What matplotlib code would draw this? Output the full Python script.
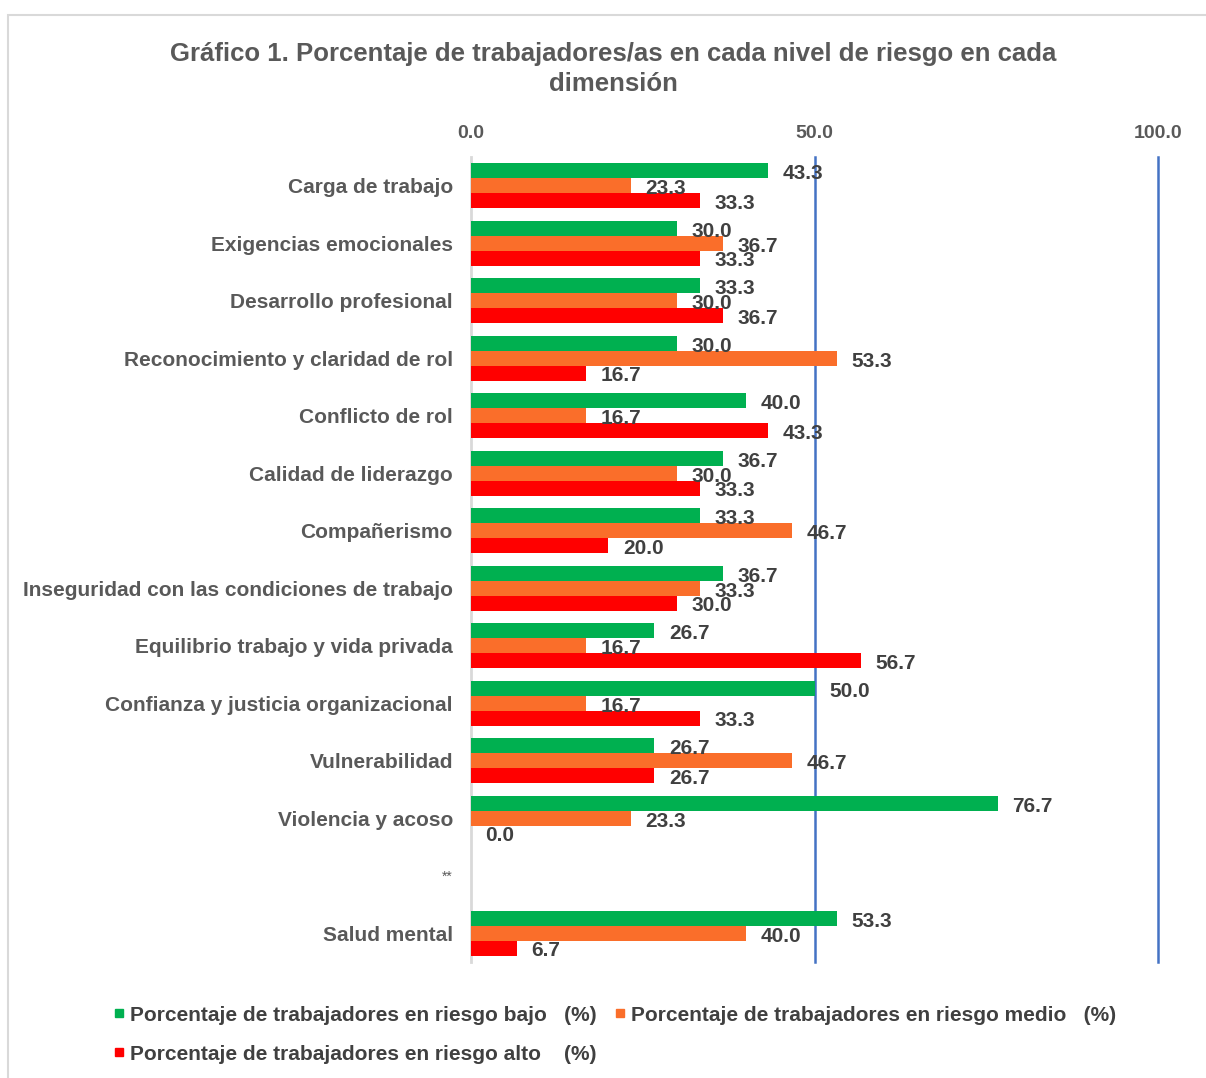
import numpy as np
import matplotlib
matplotlib.use("Agg")
import matplotlib.pyplot as plt
from matplotlib.lines import Line2D
from matplotlib.patches import Rectangle

plt.rcParams['font.family'] = ['Liberation Sans', 'DejaVu Sans']

categories = [
    "Carga de trabajo",
    "Exigencias emocionales",
    "Desarrollo profesional",
    "Reconocimiento y claridad de rol",
    "Conflicto de rol",
    "Calidad de liderazgo",
    "Compañerismo",
    "Inseguridad con las condiciones de trabajo",
    "Equilibrio trabajo y vida privada",
    "Confianza y justicia organizacional",
    "Vulnerabilidad",
    "Violencia y acoso",
    "**",
    "Salud mental",
]
riesgo_bajo = [43.3, 30.0, 33.3, 30.0, 40.0, 36.7, 33.3, 36.7, 26.7, 50.0, 26.7, 76.7, np.nan, 53.3]
riesgo_medio = [23.3, 36.7, 30.0, 53.3, 16.7, 30.0, 46.7, 33.3, 16.7, 16.7, 46.7, 23.3, np.nan, 40.0]
riesgo_alto = [33.3, 33.3, 36.7, 16.7, 43.3, 33.3, 20.0, 30.0, 56.7, 33.3, 26.7, 0.0, np.nan, 6.7]
series_names = [
    "Porcentaje de trabajadores en riesgo bajo   (%)",
    "Porcentaje de trabajadores en riesgo medio   (%)",
    "Porcentaje de trabajadores en riesgo alto    (%)",
]
x_ticks = [0, 50, 100]
x_ticklabels = ["0.0", "50.0", "100.0"]

colors = ["#00B050", "#FA6E2A", "#FF0000"]
label_color = "#404040"
cat_color = "#595959"

W, H = 1206, 1078
fig = plt.figure(figsize=(W / 100, H / 100), dpi=100)
fig.patch.set_facecolor("white")

left = 471 / W
right = 1158 / W
top = 1 - 157 / H
bottom = 1 - 962 / H
ax = fig.add_axes([left, bottom, right - left, top - bottom])

n = len(categories)
y = np.arange(n)
bh = 0.26
all_series = [riesgo_bajo, riesgo_medio, riesgo_alto]
offsets = [-bh, 0, bh]
for vals, off, col in zip(all_series, offsets, colors):
    vals = np.array(vals, dtype=float)
    ax.barh(y + off, vals, height=bh, color=col, zorder=3)
    for yi, v in zip(y, vals):
        if np.isnan(v):
            continue
        ax.annotate(f"{v:.1f}", xy=(v, yi + off), xytext=(10.5, -2.0),
                    textcoords="offset points", ha="left", va="center",
                    fontsize=15, fontweight="bold", color=label_color, zorder=5)

ax.set_xlim(0, 100)
ax.set_ylim(n - 0.5, -0.5)
ax.set_yticks(y)
ax.set_yticklabels(categories)
for lbl, c in zip(ax.get_yticklabels(), categories):
    lbl.set_color(cat_color)
    lbl.set_fontweight("bold")
    if c == "**":
        lbl.set_fontsize(10)
        lbl.set_fontweight("normal")
    else:
        lbl.set_fontsize(15)
ax.tick_params(axis="y", length=0, pad=13)

ax.xaxis.tick_top()
ax.set_xticks(x_ticks)
ax.set_xticklabels(x_ticklabels, fontsize=14, fontweight="bold", color=cat_color)
ax.tick_params(axis="x", length=0, pad=11)

for s in ["top", "right", "bottom"]:
    ax.spines[s].set_visible(False)
ax.spines["left"].set_color("#D9D9D9")
ax.spines["left"].set_linewidth(2)
for xv in [50, 100]:
    ax.axvline(xv, color="#4472C4", linewidth=1.8, zorder=2, clip_on=False)

fig.text(613 / W, 1 - 69 / H,
         "Gráfico 1. Porcentaje de trabajadores/as en cada nivel de riesgo en cada\ndimensión",
         ha="center", va="center", fontsize=18.5, fontweight="bold", color=cat_color,
         linespacing=1.32)

# legend (row-major order: bajo, medio in row 1; alto in row 2)
handles = [Line2D([], [], linestyle="none", marker="s", markersize=6,
                  markerfacecolor=c, markeredgecolor=c) for c in colors]
order = [0, 2, 1]
leg = fig.legend([handles[i] for i in order], [series_names[i] for i in order],
                 ncol=2, loc="upper left", bbox_to_anchor=(94 / W, 1 - 987 / H),
                 frameon=False, handlelength=0.6, handletextpad=0.25,
                 columnspacing=0.8, labelspacing=0.95,
                 prop={"size": 15, "weight": "bold"})
for t in leg.get_texts():
    t.set_color(label_color)

# outer chart border (cropped)
fig.patches.append(Rectangle((8 / W, -0.1), 1.2, 1 - 15 / H + 0.1,
                             transform=fig.transFigure, fill=False,
                             edgecolor="#D9D9D9", linewidth=1.5))

fig.savefig("out.png", dpi=100)
